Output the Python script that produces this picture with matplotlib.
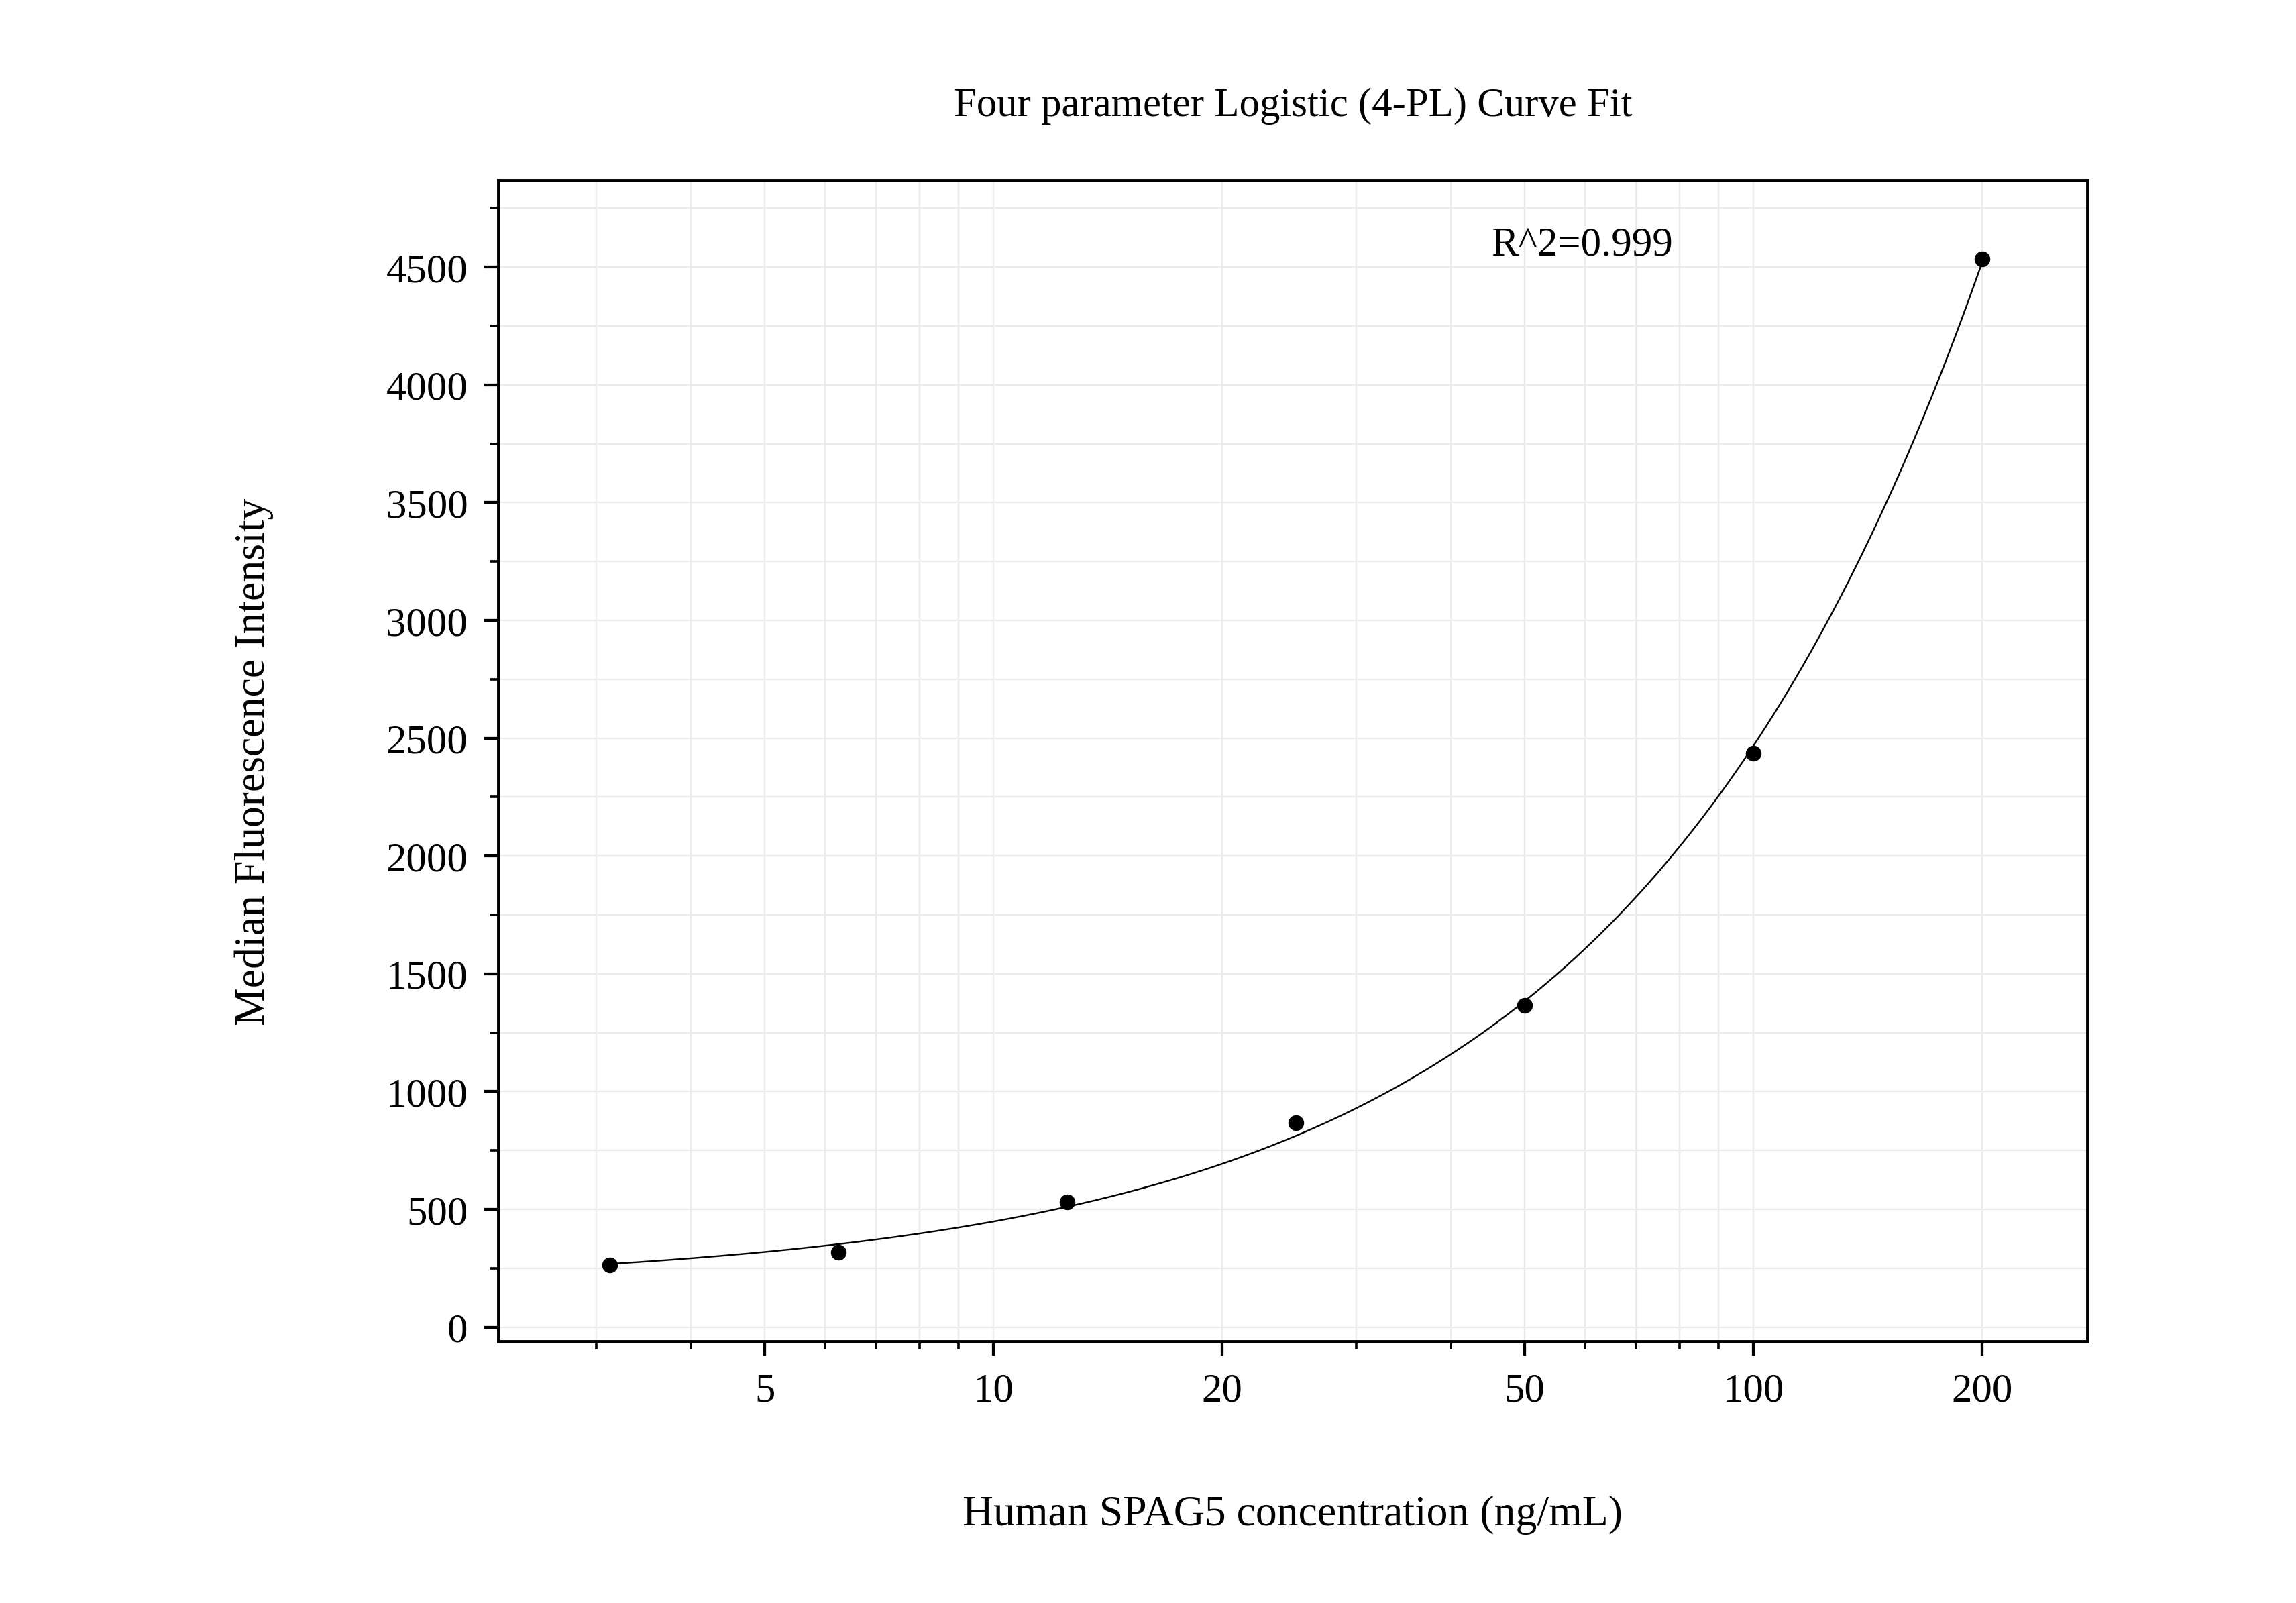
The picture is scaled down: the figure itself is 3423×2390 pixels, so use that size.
import matplotlib.pyplot as plt
import matplotlib.ticker as mticker
import numpy as np

plt.rcParams['font.family'] = 'Liberation Serif'

conc = [3.125, 6.25, 12.5, 25, 50, 100, 200]
mfi = [262, 318, 532, 866, 1366, 2436, 4535]
x_ticks = [5, 10, 20, 50, 100, 200]
y_ticks = [0, 500, 1000, 1500, 2000, 2500, 3000, 3500, 4000, 4500]


def fit_4pl(x, y):
    """Grid search over B, C; A and D solved by least squares."""
    x = np.asarray(x, float)
    y = np.asarray(y, float)
    best = None
    for b in np.linspace(0.5, 2.5, 81):
        for c in np.logspace(1, 5, 161):
            g = 1.0 / (1.0 + (x / c) ** b)
            M = np.column_stack([g, 1 - g])
            coef, *_ = np.linalg.lstsq(M, y, rcond=None)
            err = np.sum((M @ coef - y) ** 2)
            if best is None or err < best[0]:
                best = (err, coef[0], b, c, coef[1])
    return best[1:]


a, b, c, d = fit_4pl(conc, mfi)
xs = np.logspace(np.log10(conc[0]), np.log10(conc[-1]), 300)
ys = d + (a - d) / (1 + (xs / c) ** b)

fig = plt.figure(figsize=(15.65, 10.93), dpi=218.75)
ax = fig.add_axes([0.217, 0.163, 0.692, 0.724])

ax.plot(xs, ys, color='black', linewidth=0.8)
ax.scatter(conc, mfi, color='black', s=45, zorder=3)

ax.set_xscale('log')
ax.set_xlim(2.23, 275)
ax.set_ylim(-62, 4867)
ax.xaxis.set_major_locator(mticker.FixedLocator(x_ticks))
ax.xaxis.set_major_formatter(mticker.FixedFormatter([str(t) for t in x_ticks]))
ax.xaxis.set_minor_locator(mticker.LogLocator(base=10, subs=np.arange(2, 10)))
ax.xaxis.set_minor_formatter(mticker.NullFormatter())
ax.set_yticks(y_ticks)
ax.yaxis.set_minor_locator(mticker.MultipleLocator(250))

ax.grid(True, which='both', color='#ebebeb', linewidth=0.8)
ax.set_axisbelow(True)
for s in ax.spines.values():
    s.set_linewidth(1.6)
ax.tick_params(which='both', direction='out', labelsize=20, top=False, right=False)
ax.tick_params(which='major', length=7, width=1.4, pad=8)
ax.tick_params(which='minor', length=4, width=1.2)

ax.set_xlabel('Human SPAG5 concentration (ng/mL)', fontsize=21, labelpad=42)
ax.set_ylabel('Median Fluorescence Intensity', fontsize=21, labelpad=55)
ax.set_title('Four parameter Logistic (4-PL) Curve Fit', fontsize=20, pad=32)
ax.text(0.625, 0.96, 'R^2=0.999', transform=ax.transAxes, fontsize=20, va='top')

fig.savefig('out.png', dpi=218.75)
